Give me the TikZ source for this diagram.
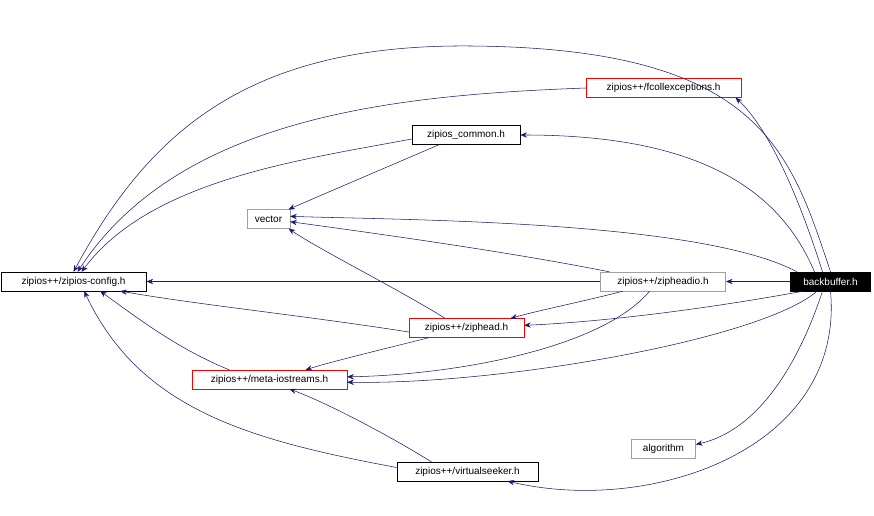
\documentclass[tikz,border=0pt]{standalone}
\usepackage{fontspec}
\setmainfont{Liberation Sans}
\usetikzlibrary{arrows.meta}
\definecolor{mb}{HTML}{191970}
\definecolor{gr}{HTML}{A0A0A0}
\tikzset{
  box/.style={draw=black,fill=white,font=\fontsize{7.5}{9}\selectfont,inner xsep=3pt,inner ysep=0pt,minimum height=14pt,anchor=center},
  redbox/.style={box,draw=red},
  graybox/.style={box,draw=gr},
  e/.style={draw=mb,-{Stealth[length=5pt,width=4pt]},fill=none},
}
\begin{document}
\begin{tikzpicture}[x=0.75pt,y=-0.75pt]
\useasboundingbox (0,0) rectangle (874,516);
\node[box,fill=black,text=white,minimum width=60pt] (bb) at (830.5,281.5) {backbuffer.h};
\node[redbox,minimum width=116pt] (fc) at (663.5,88) {zipios++/fcollexceptions.h};
\node[box,minimum width=81pt] (co) at (466,135) {zipios\_common.h};
\node[graybox,minimum width=32pt] (ve) at (268.5,219) {vector};
\node[box,minimum width=109pt] (cfg) at (73.5,281.5) {zipios++/zipios-config.h};
\node[graybox,minimum width=94pt] (zio) at (663,281.5) {zipios++/zipheadio.h};
\node[redbox,minimum width=86pt] (zh) at (466.5,328) {zipios++/ziphead.h};
\node[redbox,minimum width=116pt] (me) at (269.5,379.5) {zipios++/meta-iostreams.h};
\node[graybox,minimum width=48pt] (al) at (663.5,448.5) {algorithm};
\node[box,minimum width=106pt] (vs) at (467.5,471.5) {zipios++/virtualseeker.h};

\draw[e] (bb.north) .. controls (790,150) and (760,48) .. (470,46) .. controls (250,44) and (150,130) .. (cfg.north);
\draw[e] ([xshift=-6pt]bb.north) .. controls (800,200) and (770,130) .. ([xshift=54pt]fc.south);
\draw[e] (fc.west) .. controls (400,95) and (180,115) .. ([xshift=3pt]cfg.north);
\draw[e] ([xshift=-12pt]bb.north) .. controls (780,190) and (700,135) .. (co.east);
\draw[e] ([yshift=-3pt]co.west) .. controls (300,160) and (150,180) .. ([xshift=6pt]cfg.north);
\draw[e] ([xshift=-20pt]co.south) .. controls (380,170) and (310,200) .. ([xshift=15pt]ve.north);
\draw[e] ([xshift=-25pt]bb.north) .. controls (700,220) and (400,220) .. ([yshift=2pt]ve.east);
\draw[e] (bb.west) -- (zio.east);
\draw[e] (zio.west) -- (cfg.east);
\draw[e] ([xshift=-40pt]zio.north) .. controls (500,250) and (350,230) .. ([yshift=-2pt]ve.east);
\draw[e] ([xshift=-30pt]zio.south) .. controls (590,300) and (540,310) .. ([xshift=33pt]zh.north);
\draw[e] ([xshift=-10pt]zio.south) .. controls (600,350) and (450,375) .. ([yshift=2pt]me.east);
\draw[e] ([xshift=-20pt]bb.south) .. controls (700,310) and (600,322) .. ([yshift=2pt]zh.east);
\draw[e] ([xshift=-16pt]zh.north) .. controls (400,290) and (320,250) .. ([xshift=15pt]ve.south);
\draw[e] ([xshift=-28pt]zh.south) .. controls (380,350) and (330,362) .. ([xshift=27pt]me.north);
\draw[e] ([yshift=-3pt]zh.west) .. controls (300,315) and (200,305) .. ([xshift=35pt]cfg.south);
\draw[e] ([xshift=-10pt]bb.south) .. controls (760,340) and (500,385) .. ([yshift=-2pt]me.east);
\draw[e] ([xshift=-30pt]me.north) .. controls (180,350) and (140,320) .. ([xshift=20pt]cfg.south);
\draw[e] ([xshift=-6pt]bb.south) .. controls (800,360) and (760,430) .. ([yshift=3pt]al.east);
\draw[e] (bb.south) .. controls (845,450) and (650,515) .. ([xshift=30pt]vs.south);
\draw[e] ([xshift=-27pt]vs.north) .. controls (380,430) and (320,400) .. ([xshift=15pt]me.south);
\draw[e] ([yshift=3pt]vs.west) .. controls (250,440) and (140,410) .. ([xshift=8pt]cfg.south);
\end{tikzpicture}
\end{document}
